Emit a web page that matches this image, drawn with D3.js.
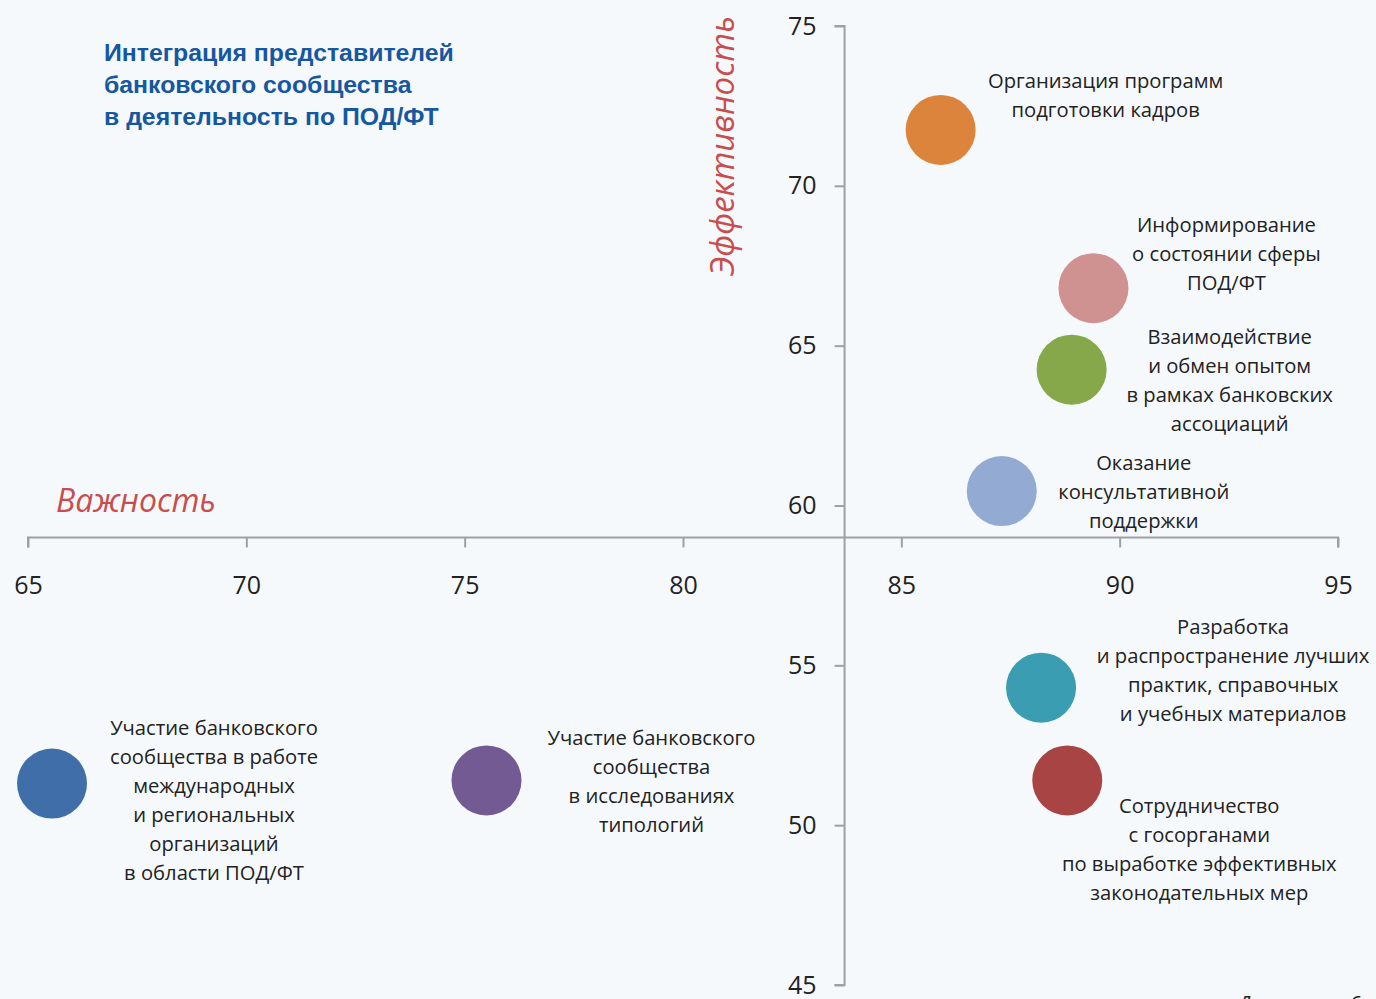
<!DOCTYPE html>
<html>
<head>
<meta charset="utf-8">
<script src="https://cdn.jsdelivr.net/npm/d3@7"></script>
<style>
  body { margin: 0; background: #f5f9fc; overflow: hidden; }
  svg { display: block; }
</style>
</head>
<body>
<svg id="svg" width="1376" height="999"></svg>
<script>
// data
var names = [
  ["Организация программ", "подготовки кадров"],
  ["Информирование", "о состоянии сферы", "ПОД/ФТ"],
  ["Взаимодействие", "и обмен опытом", "в рамках банковских", "ассоциаций"],
  ["Оказание", "консультативной", "поддержки"],
  ["Разработка", "и распространение лучших", "практик, справочных", "и учебных материалов"],
  ["Сотрудничество", "с госорганами", "по выработке эффективных", "законодательных мер"],
  ["Участие банковского", "сообщества", "в исследованиях", "типологий"],
  ["Участие банковского", "сообщества в работе", "международных", "и региональных", "организаций", "в области ПОД/ФТ"]
];
var importance = [85.9, 89.4, 88.9, 87.3, 88.2, 88.8, 75.5, 65.55];
var efficiency = [71.75, 66.8, 64.25, 60.45, 54.3, 51.4, 51.4, 51.3];
var colors = ["#dd843c", "#d09191", "#86a84a", "#93aad2", "#3b9db1", "#a84443", "#735a92", "#3f6ea8"];
var xTicks = [65, 70, 75, 80, 85, 90, 95];
var yTicks = [45, 50, 55, 60, 65, 70, 75];

// label offset from bubble centre (px)
var labelOff = [[165, -49], [133, -63], [158, -33], [142, -28], [192, -61], [132, 26], [165, -42], [162, -56]];

var svg = d3.select("#svg");
var x = d3.scaleLinear().domain([65, 95]).range([28, 1338]);
var y = d3.scaleLinear().domain([45, 75]).range([985, 26]);
var crossX = 83.7, crossY = 59;

var data = [];
for (var i = 0; i < names.length; i++) {
  data.push({name: names[i], x: importance[i], y: efficiency[i], c: colors[i], off: labelOff[i]});
}

// axes
var xAxis = svg.append("g")
  .attr("transform", "translate(0," + y(crossY) + ")")
  .call(d3.axisBottom(x).tickValues(xTicks).tickSizeInner(10).tickSizeOuter(10).tickPadding(29));
var yAxis = svg.append("g")
  .attr("transform", "translate(" + x(crossX) + ",0)")
  .call(d3.axisLeft(y).tickValues(yTicks).tickSizeInner(10).tickSizeOuter(10).tickPadding(18));

[xAxis, yAxis].forEach(function(a) {
  a.selectAll("path, line").attr("stroke", "#9da1a6").attr("stroke-width", 2);
  a.selectAll("text").attr("font-family", "Open Sans, sans-serif").attr("font-size", 25).attr("fill", "#222");
});
xAxis.select(".domain").attr("d", "M" + x(65) + ",10V0H" + x(95) + "V10");
yAxis.select(".domain").attr("d", "M-10," + y(45) + "H0V" + y(75) + "H-10");

// axis titles
svg.append("text")
  .attr("x", 56).attr("y", 512)
  .attr("font-family", "Open Sans, sans-serif").attr("font-style", "italic")
  .attr("font-size", 32).attr("fill", "#c94d4d")
  .text("Важность");
svg.append("text")
  .attr("transform", "translate(734,276) rotate(-90)")
  .attr("font-family", "Open Sans, sans-serif").attr("font-style", "italic")
  .attr("font-size", 33).attr("fill", "#c94d4d")
  .text("Эффективность");

// title
var title = ["Интеграция представителей", "банковского сообщества", "в деятельность по ПОД/ФТ"];
svg.append("text")
  .attr("font-family", "Liberation Sans, Arial, sans-serif").attr("font-weight", "bold")
  .attr("font-size", 24.8).attr("fill", "#1557a0")
  .selectAll("tspan").data(title).enter().append("tspan")
  .attr("x", 104).attr("y", function(d, i) { return 61 + i * 32; })
  .text(function(d) { return d; });

// bubbles
svg.selectAll("circle.b").data(data).enter().append("circle")
  .attr("class", "b")
  .attr("cx", function(d) { return x(d.x); })
  .attr("cy", function(d) { return y(d.y); })
  .attr("r", 35)
  .attr("fill", function(d) { return d.c; });

// labels
svg.selectAll("text.lab").data(data).enter().append("text")
  .attr("class", "lab")
  .attr("font-family", "Open Sans, sans-serif").attr("font-size", 20.2)
  .attr("fill", "#222").attr("text-anchor", "middle")
  .each(function(d) {
    var cx = x(d.x) + d.off[0], cy = y(d.y) + d.off[1];
    d3.select(this).selectAll("tspan").data(d.name).enter().append("tspan")
      .attr("x", cx).attr("y", function(t, k) { return cy + 7 + k * 29; })
      .text(function(t) { return t; });
  });

// caption cut off at bottom, as in the source
svg.append("text")
  .attr("x", 1238).attr("y", 1010)
  .attr("font-family", "Open Sans, sans-serif").attr("font-style", "italic")
  .attr("font-size", 20).attr("fill", "#222")
  .text("Диаграмма 6");
</script>
</body>
</html>
